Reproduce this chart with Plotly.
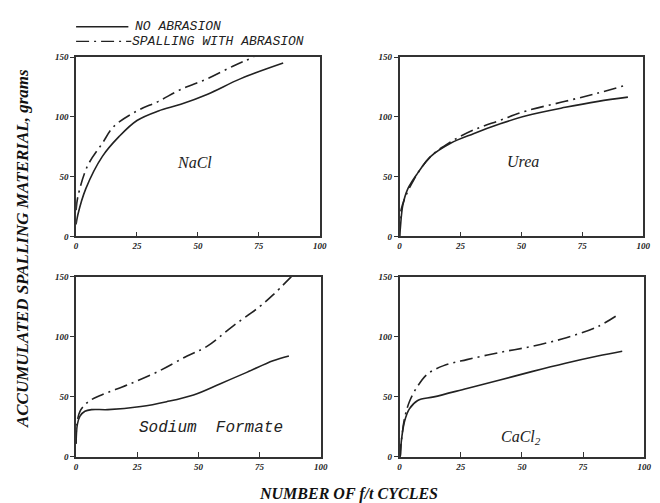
import plotly.graph_objects as go

# ---- data ----
nacl_x_no = [0, 0.7, 4, 10.8, 17.6, 25, 33.8, 43, 54, 67.6, 85]
nacl_y_no = [10, 18, 40, 67, 83.5, 97, 105, 110.6, 119, 132, 145]
nacl_x_ab = [0, 0.7, 4.7, 10.8, 15.5, 25, 33.8, 43, 54, 65, 73]
nacl_y_ab = [22, 33, 59, 78, 92, 105, 113, 123, 132, 143, 150]

urea_x_no = [0, 0.3, 1.3, 3.4, 7.4, 12.8, 20.9, 30.3, 41, 52, 68, 81.5, 93.7]
urea_y_no = [0, 7, 26, 40, 53, 67, 78, 86, 94, 101, 108, 113, 116.5]
urea_x_ab = [0, 0.7, 6, 12.8, 20.9, 30.3, 41, 52, 68, 81.5, 93.7]
urea_y_ab = [0, 23, 48, 67, 79, 89, 97, 105, 113, 120, 127]

sf_x_no = [0, 0.5, 1.6, 3.6, 6.3, 13, 26.5, 37, 48, 59, 70, 80.5, 87]
sf_y_no = [11, 27, 34, 38, 39.4, 39.4, 42, 46, 51.6, 61, 70.6, 80, 84]
sf_x_ab = [0, 0.3, 1.6, 5, 10.4, 21, 33, 45.4, 53.5, 64, 75, 80.5, 88]
sf_y_ab = [11, 27, 38, 46, 51.6, 60, 70.6, 84, 92, 108.7, 125, 134.8, 150]

ca_x_no = [0, 0.3, 0.7, 2, 4, 7.4, 14, 27.5, 41, 54, 67.8, 81, 91]
ca_y_no = [0, 1, 13, 29.5, 40, 47, 50, 57, 64, 71, 78, 84, 88]
ca_x_ab = [0, 0.7, 2, 4, 7.4, 11.4, 18, 27.5, 41, 54, 67.8, 81, 89]
ca_y_ab = [0, 13, 32, 46, 59, 69, 76, 81, 87, 92, 99, 108.5, 118]

panel_names = ["NaCl", "Urea", "Sodium  Formate", "CaCl<sub>2</sub>"]
panels = [
    (nacl_x_no, nacl_y_no, nacl_x_ab, nacl_y_ab),
    (urea_x_no, urea_y_no, urea_x_ab, urea_y_ab),
    (sf_x_no, sf_y_no, sf_x_ab, sf_y_ab),
    (ca_x_no, ca_y_no, ca_x_ab, ca_y_ab),
]
x_ticks = [0, 25, 50, 75, 100]
y_ticks = [0, 50, 100, 150]
legend_labels = ["NO ABRASION", "SPALLING WITH ABRASION"]

W, H = 660, 503
# pixel boxes: (left, right, top, bottom)
boxes = [(67, 314, 45, 228), (395, 642, 45, 228), (67, 315, 269, 453), (395, 643, 269, 453)]
label_pos = [(187, 153), (520, 152), (204, 423), (518, 433)]
label_fonts = [("Liberation Serif", 16), ("Liberation Serif", 16), ("Liberation Mono", 16), ("Liberation Serif", 16)]
DASHDOT = "13px,5px,2px,5px"

fig = go.Figure()
layout = dict(width=W, height=H, margin=dict(l=0, r=0, t=0, b=0),
              paper_bgcolor="white", plot_bgcolor="white", showlegend=False)
tickfont = dict(family="Liberation Serif", size=9, color="#222")
annotations = []
for i, (xn, yn, xa, ya) in enumerate(panels):
    k = "" if i == 0 else str(i + 1)
    l, r, t, b = boxes[i]
    fig.add_trace(go.Scatter(x=xn, y=yn, mode="lines", line=dict(color="#222", width=1.6, shape="spline"),
                             xaxis="x" + k, yaxis="y" + k, name=legend_labels[0]))
    fig.add_trace(go.Scatter(x=xa, y=ya, mode="lines",
                             line=dict(color="#222", width=1.6, shape="spline", dash=DASHDOT),
                             xaxis="x" + k, yaxis="y" + k, name=legend_labels[1]))
    layout["xaxis" + k] = dict(domain=[l / W, r / W], range=[0, 100], tickvals=x_ticks,
                               ticktext=["<b><i>%d</i></b>" % v for v in x_ticks],
                               ticks="inside", ticklen=5, tickcolor="#333", showgrid=False, zeroline=False,
                               showline=True, linecolor="#333", linewidth=1.5, mirror=True,
                               anchor="y" + k, tickfont=tickfont)
    layout["yaxis" + k] = dict(domain=[1 - b / H, 1 - t / H], range=[0, 150], tickvals=y_ticks,
                               ticktext=["<b><i>%d</i></b>" % v for v in y_ticks],
                               ticks="outside", ticklen=4, tickcolor="#333", showgrid=False, zeroline=False,
                               showline=True, linecolor="#333", linewidth=1.5, mirror=True,
                               anchor="x" + k, tickfont=tickfont)
    lx, ly = label_pos[i]
    fam, sz = label_fonts[i]
    annotations.append(dict(x=lx / W, y=1 - ly / H, xref="paper", yref="paper", xanchor="center",
                            yanchor="middle", text="<i>%s</i>" % panel_names[i],
                            showarrow=False, font=dict(family=fam, size=sz, color="#222")))

# legend (drawn manually)
shapes = [
    dict(type="line", xref="paper", yref="paper", x0=67 / W, x1=120 / W, y0=1 - 14 / H, y1=1 - 14 / H,
         line=dict(color="#222", width=1.4)),
    dict(type="line", xref="paper", yref="paper", x0=67 / W, x1=123 / W, y0=1 - 29 / H, y1=1 - 29 / H,
         line=dict(color="#222", width=1.4, dash=DASHDOT)),
]
annotations.append(dict(x=126 / W, y=1 - 14 / H, xref="paper", yref="paper", xanchor="left", yanchor="middle",
                        text="<i>" + legend_labels[0] + "</i>", showarrow=False, borderpad=0,
                        font=dict(family="Liberation Mono", size=13, color="#222")))
annotations.append(dict(x=123 / W, y=1 - 29 / H, xref="paper", yref="paper", xanchor="left", yanchor="middle",
                        text="<i>" + legend_labels[1] + "</i>", showarrow=False, borderpad=0,
                        font=dict(family="Liberation Mono", size=13, color="#222")))
# axis titles
annotations.append(dict(x=12 / W, y=1 - 240 / H, xref="paper", yref="paper", textangle=-90,
                        xanchor="center", yanchor="middle",
                        text="<b><i>ACCUMULATED SPALLING MATERIAL, grams</i></b>", showarrow=False,
                        font=dict(family="Liberation Serif", size=17, color="#111")))
annotations.append(dict(x=343 / W, y=1 - 491 / H, xref="paper", yref="paper", xanchor="center",
                        yanchor="middle",
                        text="<b><i>NUMBER OF f/t CYCLES</i></b>", showarrow=False,
                        font=dict(family="Liberation Serif", size=16, color="#111")))
layout["annotations"] = annotations
layout["shapes"] = shapes
fig.update_layout(**layout)
fig.write_html("out.html")
